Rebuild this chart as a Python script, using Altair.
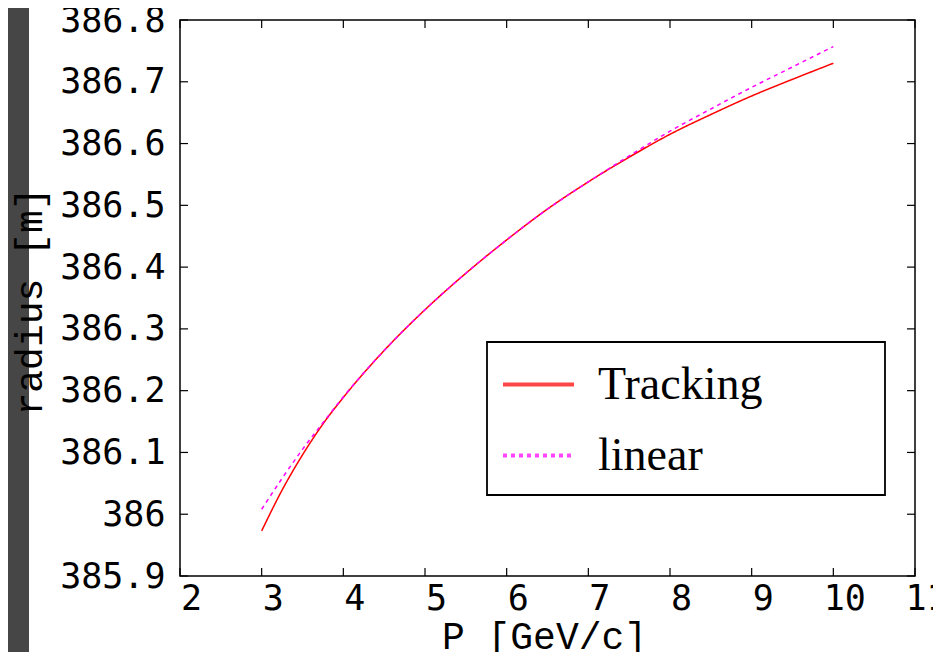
import altair as alt
import pandas as pd

# ---- data ----
p_values = [3.0, 3.25, 3.5, 3.75, 4.0, 4.5, 5.0, 5.5, 6.0, 6.5, 7.0, 7.5, 8.0, 8.5, 9.0, 9.5, 10.0]
r_tracking = [385.973, 386.039, 386.096, 386.146, 386.189, 386.265, 386.331, 386.390, 386.444,
              386.494, 386.538, 386.578, 386.615, 386.647, 386.677, 386.704, 386.730]
r_linear = [386.008, 386.058, 386.105, 386.148, 386.190, 386.265, 386.331, 386.390, 386.444,
            386.494, 386.538, 386.580, 386.620, 386.656, 386.691, 386.724, 386.757]
series_names = ["Tracking", "linear"]
series_colors = ["#ff0000", "#ff00ff"]
x_ticks = [2, 3, 4, 5, 6, 7, 8, 9, 10, 11]
y_ticks = [385.9, 386.0, 386.1, 386.2, 386.3, 386.4, 386.5, 386.6, 386.7, 386.8]

W, H = 735, 556
TICK = 8

rows = []
for p, r in zip(p_values, r_tracking):
    rows.append({"P": p, "radius": r, "series": "Tracking"})
for p, r in zip(p_values, r_linear):
    rows.append({"P": p, "radius": r, "series": "linear"})
df = pd.DataFrame(rows)

xscale = alt.Scale(domain=[x_ticks[0], x_ticks[-1]], nice=False, zero=False)
yscale = alt.Scale(domain=[y_ticks[0], y_ticks[-1]], nice=False, zero=False)

xaxis = alt.Axis(values=x_ticks, format="d", title="P [GeV/c]", zindex=1,
                 titleX=364, titleY=72, titleAlign="center", titleBaseline="alphabetic",
                 labelOffset=11, labelPadding=5, labelFlush=False)
yaxis = alt.Axis(values=y_ticks, format=".4~r", title="radius [m]", zindex=1,
                 titleX=-150, titleY=281, titleAngle=-90,
                 titleAlign="center", titleBaseline="middle", labelPadding=15)

legend = alt.Legend(
    title=None, orient="none", legendX=307, legendY=319,
    symbolType="stroke", symbolSize=5041, symbolStrokeWidth=4, symbolOpacity=0.72,
    symbolOffset=6,
    labelFont="Liberation Serif", labelFontSize=46, labelColor="black", labelLimit=0,
    labelOffset=22, rowPadding=10, padding=8,
    strokeColor="transparent", fillColor="transparent",
)

lines = alt.Chart(df).mark_line(strokeWidth=1.5, interpolate="monotone").encode(
    x=alt.X("P:Q", scale=xscale, axis=xaxis),
    y=alt.Y("radius:Q", scale=yscale, axis=yaxis),
    color=alt.Color("series:N", scale=alt.Scale(domain=series_names, range=series_colors), legend=legend),
    strokeDash=alt.StrokeDash("series:N", scale=alt.Scale(domain=series_names, range=[[1, 0], [4, 4]]),
                              legend=legend),
)

xt = pd.DataFrame({"v": x_ticks})
yt = pd.DataFrame({"v": y_ticks})

tick_bottom = alt.Chart(xt).mark_rule(color="black", strokeWidth=1.2).encode(
    x=alt.X("v:Q", scale=xscale, axis=xaxis), y=alt.value(H), y2=alt.value(H - TICK))
tick_top = alt.Chart(xt).mark_rule(color="black", strokeWidth=1.2).encode(
    x=alt.X("v:Q", scale=xscale, axis=xaxis), y=alt.value(0), y2=alt.value(TICK))
tick_left = alt.Chart(yt).mark_rule(color="black", strokeWidth=1.2).encode(
    y=alt.Y("v:Q", scale=yscale, axis=yaxis), x=alt.value(0), x2=alt.value(TICK))
tick_right = alt.Chart(yt).mark_rule(color="black", strokeWidth=1.2).encode(
    y=alt.Y("v:Q", scale=yscale, axis=yaxis), x=alt.value(W), x2=alt.value(W - TICK))

# decorative page strip and legend frame
strip_left = alt.Chart(alt.Data(values=[{}])).mark_rect(color="#464646").encode(
    x=alt.value(-172), x2=alt.value(-151), y=alt.value(-12), y2=alt.value(H + 90))
legend_frame = alt.Chart(alt.Data(values=[{}])).mark_rect(
    fill="white", stroke="black", strokeWidth=1.8
).encode(x=alt.value(307), x2=alt.value(705), y=alt.value(322), y2=alt.value(475))

chart = alt.layer(
    strip_left, tick_bottom, tick_top, tick_left, tick_right, lines, legend_frame
).properties(
    width=W, height=H,
    autosize=alt.AutoSizeParams(type="none"),
    padding={"left": 172, "top": 12, "right": 18, "bottom": 76},
    background="white",
).configure_view(
    stroke="black", strokeWidth=1.5, fill="white"
).configure_axis(
    zindex=1, grid=False, ticks=False, domain=False,
    labelFont="DejaVu Sans Mono", labelFontSize=35, labelColor="black",
    titleFont="Liberation Mono", titleFontSize=38, titleColor="black", titleFontWeight="normal",
)

chart.save("out.html", embed_options={"renderer": "svg", "actions": False})
